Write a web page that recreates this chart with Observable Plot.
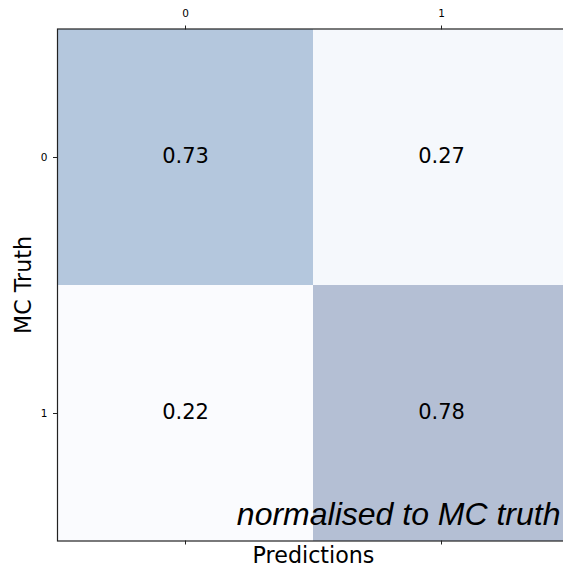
<!DOCTYPE html>
<html>
<head>
<meta charset="utf-8">
<script src="https://cdn.jsdelivr.net/npm/d3@7"></script>
<script src="https://cdn.jsdelivr.net/npm/@observablehq/plot@0.6"></script>
<style>
  html, body { margin: 0; padding: 0; background: #fff; overflow: hidden; }
  #chart svg { display: block; }
</style>
</head>
<body>
<div id="chart"></div>
<script>
// Confusion matrix normalised to MC truth
const truthLabels = [0, 1];
const predLabels = [0, 1];
const values = [
  [0.73, 0.27],
  [0.22, 0.78]
];
const cellColors = ["#b4c7dd", "#f5f8fc", "#fafbfe", "#b4bfd4"];

const cells = [];
truthLabels.forEach((t, i) => predLabels.forEach((p, j) => {
  cells.push({truth: t, pred: p, value: values[i][j], key: `${t}-${p}`});
}));

const font = "DejaVu Sans";

const chart = Plot.plot({
  width: 563,
  height: 568,
  marginLeft: 57,
  marginTop: 28.5,
  marginBottom: 27.5,
  marginRight: -6,
  style: {fontFamily: font, color: "#000", background: "#fff", overflow: "hidden"},
  x: {type: "band", domain: predLabels, padding: 0},
  y: {type: "band", domain: truthLabels, padding: 0},
  color: {type: "ordinal", domain: cells.map(d => d.key), range: cellColors},
  marks: [
    Plot.cell(cells, {x: "pred", y: "truth", fill: "key", inset: 0}),
    Plot.text(cells, {x: "pred", y: "truth", text: d => d.value.toFixed(2),
      fontSize: 21, fill: "#000", fontFamily: font, dy: -1.5}),
    Plot.frame({stroke: "#222", strokeWidth: 1.2}),
    Plot.axisX({anchor: "top", tickSize: 4, tickPadding: 8, fontSize: 10.5, label: null, stroke: "#222"}),
    Plot.axisX({anchor: "bottom", tickSize: 4, tickFormat: () => "", label: null, stroke: "#222"}),
    Plot.axisY({anchor: "left", tickSize: 4, tickPadding: 6, fontSize: 10.5, label: null, stroke: "#222"}),
    Plot.text(["Predictions"], {frameAnchor: "bottom", text: d => d, fontSize: 22.2,
      fontFamily: font, fill: "#000", textAnchor: "middle", lineAnchor: "bottom", dy: 21.5}),
    Plot.text(["MC Truth"], {frameAnchor: "left", text: d => d, fontSize: 22.2, rotate: -90,
      fontFamily: font, fill: "#000", textAnchor: "middle", lineAnchor: "bottom", dx: -27}),
    Plot.text(["normalised to MC truth"], {frameAnchor: "bottom-right", text: d => d,
      fontSize: 32, fontStyle: "italic", fontFamily: "Liberation Sans", fill: "#000",
      textAnchor: "end", lineAnchor: "bottom", dx: -9, dy: -16.5})
  ]
});
document.getElementById("chart").appendChild(chart);
</script>
</body>
</html>
